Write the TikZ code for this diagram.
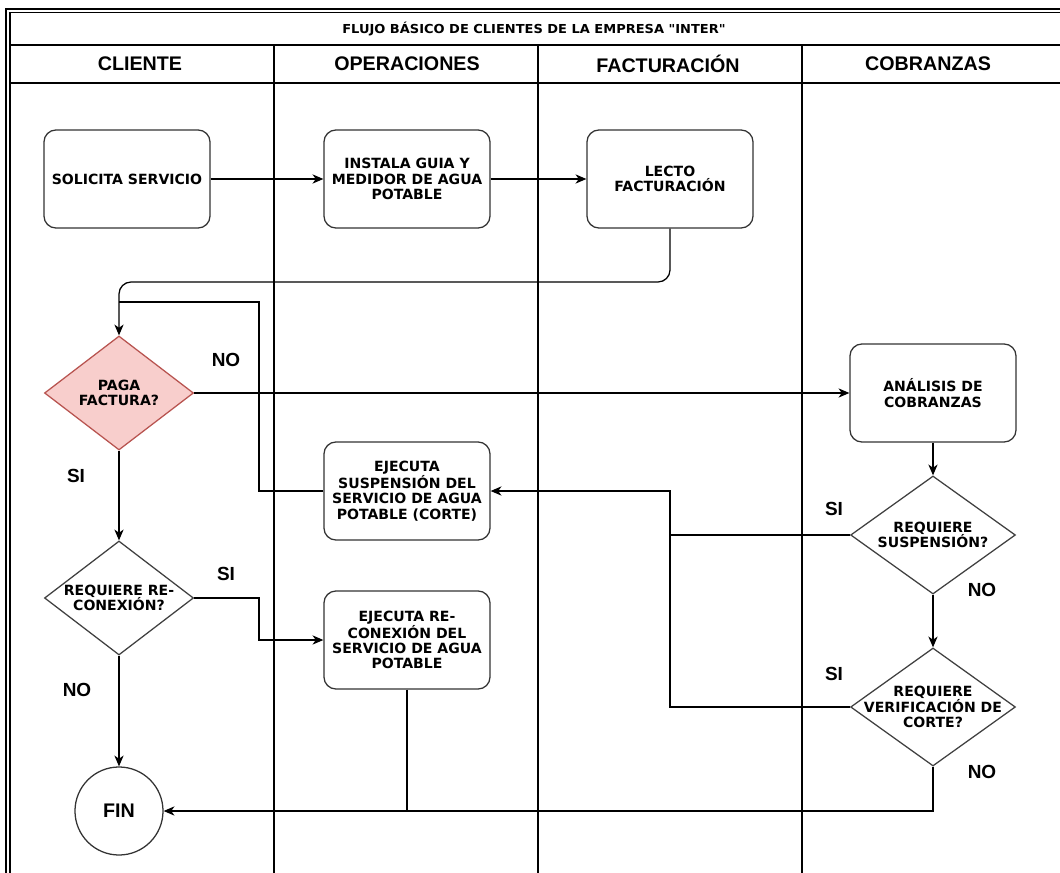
\documentclass[tikz,border=0pt]{standalone}
\usepackage{fontspec}
\setmainfont{DejaVu Sans}
\newfontfamily\arialfont{Liberation Sans}
\newfontfamily\titlefont{DejaVu Sans}[Ligatures=TeXOff]
\usepackage{graphicx}
\usetikzlibrary{arrows.meta,shapes.geometric}
\definecolor{pinkfill}{HTML}{F8CECC}
\definecolor{pinkline}{HTML}{B85450}

\tikzset{
  proc/.style={draw=black!80, line width=0.9pt, rounded corners=0.3cm, minimum width=4.15cm, minimum height=2.45cm, align=center, inner sep=1pt, font=\fontsize{10}{10.8}\selectfont\bfseries},
  decision/.style={draw=black!75, line width=0.9pt, diamond, inner sep=0pt, minimum width=4.12cm, minimum height=2.95cm},
  dtext/.style={align=center, inner sep=0pt, font=\fontsize{10}{10.8}\selectfont\bfseries},
  lanehead/.style={font=\arialfont\fontsize{14}{16}\selectfont\bfseries},
  answer/.style={font=\arialfont\fontsize{13.5}{15}\selectfont\bfseries},
  flow/.style={line width=0.9pt, -{Stealth[length=2.7mm,width=2.3mm,inset=0.8mm]}},
  wire/.style={line width=0.9pt},
  frame/.style={line width=1.1pt},
}

\begin{document}
\begin{tikzpicture}[x=0.025cm,y=-0.025cm]
                \useasboundingbox (0,0) rectangle (1060,873);
                % marco y carriles
                \draw[frame] (6,873) -- (6,9) -- (1060,9);
                \draw[frame] (10,873) -- (10,12.5) -- (1060,12.5);
                \draw[wire] (10,45) -- (1060,45);
                \draw[wire] (10,83) -- (1060,83);
                \foreach \x in {274,538,802}
                    \draw[wire] (\x,45) -- (\x,873);
                \node (title) at (534,29) {\scalebox{1.05}[1]{\titlefont\fontsize{8.8}{10}\selectfont\bfseries FLUJO BÁSICO DE CLIENTES DE LA EMPRESA "INTER"}};
                \node[lanehead] (hcli) at (140,64) {CLIENTE};
                \node[lanehead] (hope) at (407,64) {OPERACIONES};
                \node[lanehead] (hfac) at (668,64) {FACTURACIÓN};
                \node[lanehead] (hcob) at (928,64) {COBRANZAS};
                % pasos
                \node[proc] (sol) at (127,179) {SOLICITA SERVICIO};
                \node[proc] (inst) at (407,179) {INSTALA GUIA Y\\MEDIDOR DE AGUA\\POTABLE};
                \node[proc] (lecto) at (670,179) {LECTO\\FACTURACIÓN};
                \node[decision, fill=pinkfill, draw=pinkline, minimum width=3.725cm, minimum height=2.85cm,
                      label={[dtext]center:{PAGA\\FACTURA?}}] (paga) at (119,393) {};
                \node[proc] (anal) at (933,393) {ANÁLISIS DE\\COBRANZAS};
                \node[proc] (susp) at (407,491) {EJECUTA\\SUSPENSIÓN DEL\\SERVICIO DE AGUA\\POTABLE (CORTE)};
                \node[decision, label={[dtext]center:{REQUIERE\\SUSPENSIÓN?}}] (susq) at (933,535) {};
                \node[decision, minimum width=3.725cm, minimum height=2.85cm,
                      label={[dtext]center:{REQUIERE RE-\\CONEXIÓN?}}] (reconq) at (119,598) {};
                \node[proc] (recon) at (407,640) {EJECUTA RE-\\CONEXIÓN DEL\\SERVICIO DE AGUA\\POTABLE};
                \node[decision, label={[dtext]center:{REQUIERE\\VERIFICACIÓN DE\\CORTE?}}] (verif) at (933,707) {};
                \node[draw=black!80, line width=0.9pt, circle, minimum size=2.2cm, inner sep=0pt,
                      font=\arialfont\fontsize{14}{16}\selectfont\bfseries] (fin) at (119,811) {FIN};
                % puntos de quiebre
                \coordinate (j1) at (119,282);
                \coordinate (j2) at (119,302);
                \coordinate (k2) at (259,302);
                \coordinate (k3) at (670,491);
                \coordinate (k4) at (259,598);
                % conectores
                \draw[flow] (sol) -- (inst);
                \draw[flow] (inst) -- (lecto);
                \draw[flow, rounded corners=0.3cm] (lecto.south) |- (j1) -- (paga.north);
                \draw[wire] (susp.west) -| (k2) -- (j2);
                \draw[flow] (paga.east) -- (anal.west);
                \draw[flow] (paga.south) -- (reconq.north);
                \draw[flow] (anal.south) -- (susq.north);
                \draw[flow] (susq.south) -- (verif.north);
                \draw[flow] (susq.west) -| (k3) -- (susp.east);
                \draw[wire] (verif.west) -| (k3);
                \draw[flow] (reconq.east) -- (k4) |- (recon.west);
                \draw[flow] (reconq.south) -- (fin.north);
                \draw[flow] (verif.south) |- (fin.east);
                \draw[wire] (recon.south) -- (recon.south |- fin.east);
                % respuestas
                \node[answer] (no1) at (226,360) {NO};
                \node[answer] (si1) at (76,476) {SI};
                \node[answer] (si2) at (226,574) {SI};
                \node[answer] (no2) at (77,690) {NO};
                \node[answer] (si3) at (834,509) {SI};
                \node[answer] (no3) at (982,590) {NO};
                \node[answer] (si4) at (834,674) {SI};
                \node[answer] (no4) at (982,772) {NO};
            \end{tikzpicture}
\end{document}
